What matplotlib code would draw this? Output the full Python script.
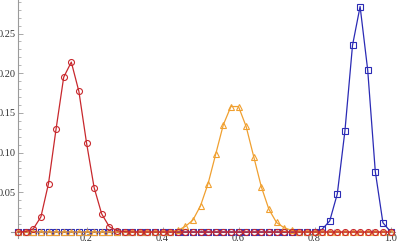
import numpy as np
import matplotlib
matplotlib.use("Agg")
import matplotlib.pyplot as plt
from matplotlib.ticker import MultipleLocator, FixedLocator, FuncFormatter

x_values = [round(0.02 * i, 2) for i in range(1, 51)]

red_peaks = {0.04: 0.0005, 0.06: 0.004, 0.08: 0.019, 0.10: 0.061, 0.12: 0.130, 0.14: 0.195,
             0.16: 0.214, 0.18: 0.177, 0.20: 0.1125, 0.22: 0.056, 0.24: 0.0227,
             0.26: 0.0067, 0.28: 0.0017, 0.30: 0.0004}
orange_peaks = {0.42: 0.0005, 0.44: 0.002, 0.46: 0.0070, 0.48: 0.015, 0.50: 0.033, 0.52: 0.061,
                0.54: 0.098, 0.56: 0.135, 0.58: 0.158, 0.60: 0.158, 0.62: 0.133,
                0.64: 0.095, 0.66: 0.057, 0.68: 0.0286, 0.70: 0.012, 0.72: 0.0054,
                0.74: 0.002, 0.76: 0.0005}
blue_peaks = {0.80: 0.0005, 0.82: 0.0034, 0.84: 0.0139, 0.86: 0.048, 0.88: 0.127,
              0.90: 0.235, 0.92: 0.284, 0.94: 0.204, 0.96: 0.076, 0.98: 0.0117,
              1.00: 0.0005}

red_values = [red_peaks.get(x, 0.0) for x in x_values]
orange_values = [orange_peaks.get(x, 0.0) for x in x_values]
blue_values = [blue_peaks.get(x, 0.0) for x in x_values]

fig = plt.figure(figsize=(3.99, 2.45), dpi=100)
ax = fig.add_axes([0, 0, 1, 1])
ax.patch.set_alpha(0)

ms = 4.3
lw = 0.9
ax.plot(x_values, blue_values, color="#2b2bb5", lw=lw, marker="s", ms=ms, mfc="none", mew=0.8, zorder=3)
ax.plot(x_values, orange_values, color="#f0a030", lw=lw, marker="^", ms=ms, mfc="none", mew=0.8, zorder=4)
ax.plot(x_values, red_values, color="#c8282d", lw=lw, marker="o", ms=ms, mfc="none", mew=0.8, zorder=5)

ax.set_xlim(-10.5 / 380, (399 - 10.5) / 380)
ax.set_ylim(-13 / 794, 232 / 794)

for s in ["top", "right"]:
    ax.spines[s].set_visible(False)
ax.spines["left"].set_position(("data", 0.02))
ax.spines["bottom"].set_position(("data", 0.0))
ax.spines["left"].set_bounds(-0.007, 0.30)
ax.spines["bottom"].set_bounds(0.0, 1.013)
for s in ["left", "bottom"]:
    ax.spines[s].set_color("#9a9a9a")
    ax.spines[s].set_linewidth(0.8)
    ax.spines[s].set_zorder(1)

ax.yaxis.set_major_locator(FixedLocator([0.05, 0.10, 0.15, 0.20, 0.25]))
ax.yaxis.set_minor_locator(FixedLocator([v / 100 for v in range(1, 30) if v % 5 != 0]))
ax.xaxis.set_major_locator(FixedLocator([0.2, 0.4, 0.6, 0.8, 1.0]))
ax.xaxis.set_minor_locator(FixedLocator([v / 20 for v in range(1, 21) if v % 4 != 0]))
ax.yaxis.set_major_formatter(FuncFormatter(lambda v, p: f"{v:.2f}"))
ax.xaxis.set_major_formatter(FuncFormatter(lambda v, p: f"{v:.1f}"))

font = {"family": "Liberation Serif", "size": 7.5}
ax.tick_params(axis="both", which="major", direction="in", length=3.5, width=0.6,
               color="#9a9a9a", labelsize=7.5, pad=1.5)
ax.tick_params(axis="both", which="minor", direction="in", length=2, width=0.5, color="#9a9a9a")
for lab in ax.get_xticklabels() + ax.get_yticklabels():
    lab.set_fontfamily("Liberation Serif")
    lab.set_color("#333333")

fig.savefig("out.png", dpi=100)
